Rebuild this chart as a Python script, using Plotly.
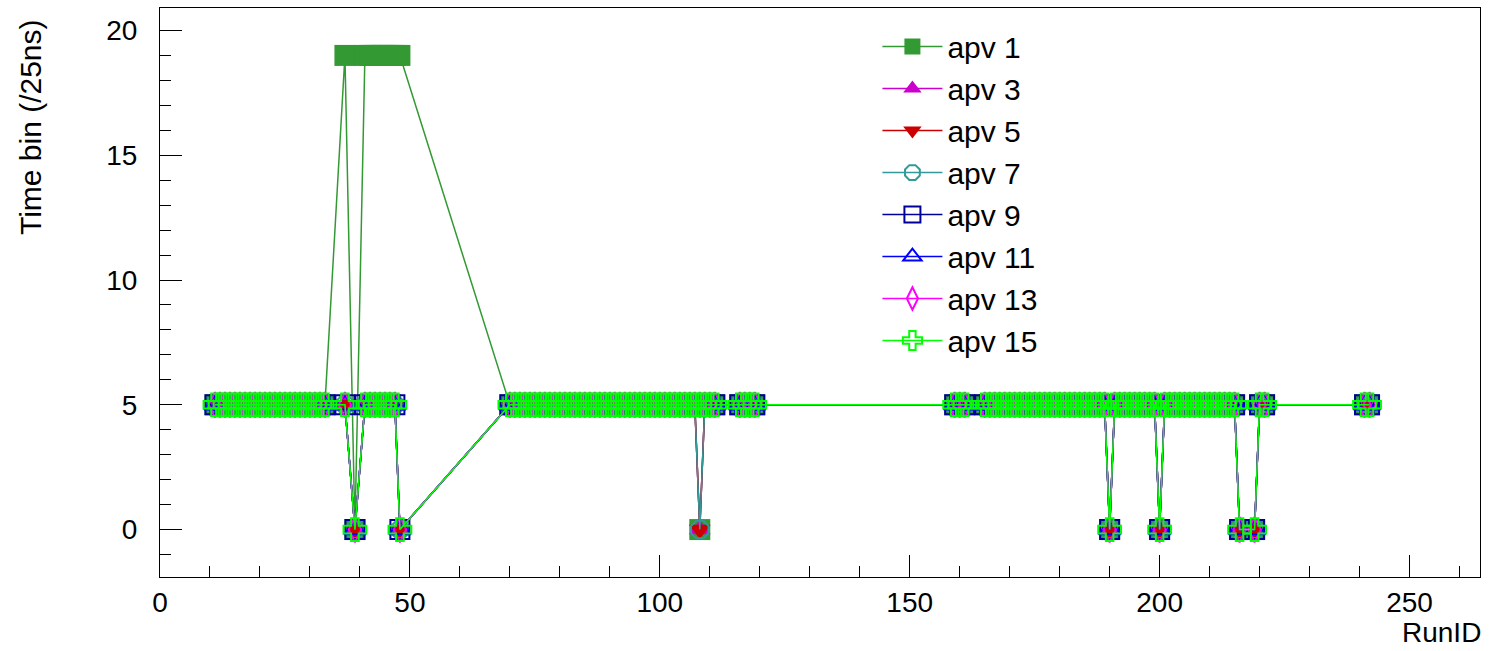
import plotly.graph_objects as go

# ---- data ----
runs_seg_a = list(range(11, 34)) + [37, 39] + list(range(41, 49))
runs_seg_b = list(range(70, 112))
runs_seg_b2 = [116, 117, 118, 119]
runs_seg_c0 = [159, 160, 161]
runs_seg_c = list(range(165, 216))
runs_seg_c2 = [216, 219, 220, 221]
runs_seg_d = [241, 242]
run_ids = runs_seg_a + runs_seg_b + runs_seg_b2 + runs_seg_c0 + runs_seg_c + runs_seg_c2 + runs_seg_d

apv_1 = ([5] * 23 + [19, 0] + [19] * 8
         + [5] * 38 + [0] + [5] * 3
         + [5] * 4 + [5] * 3
         + [5] * 25 + [0] + [5] * 9 + [0] + [5] * 15
         + [0, 0, 5, 5] + [5, 5])
apv_3 = ([5] * 23 + [5, 0] + [5] * 7 + [0]
         + [5] * 38 + [0] + [5] * 3
         + [5] * 4 + [5] * 3
         + [5] * 25 + [0] + [5] * 9 + [0] + [5] * 15
         + [0, 0, 5, 5] + [5, 5])
apv_5 = list(apv_3)
apv_7 = list(apv_3)
apv_9 = ([5] * 23 + [5, 0] + [5] * 7 + [0]
         + [5] * 42
         + [5] * 4 + [5] * 3
         + [5] * 25 + [0] + [5] * 9 + [0] + [5] * 15
         + [0, 0, 5, 5] + [5, 5])
apv_11 = list(apv_9)
apv_13 = list(apv_9)
apv_15 = list(apv_9)

series_names = ["apv 1", "apv 3", "apv 5", "apv 7", "apv 9", "apv 11", "apv 13", "apv 15"]
series_values = [apv_1, apv_3, apv_5, apv_7, apv_9, apv_11, apv_13, apv_15]

x_tick_vals = [0, 50, 100, 150, 200, 250]
y_tick_vals = [0, 5, 10, 15, 20]

# ---- styles ----
colors = ["#339933", "#cc00cc", "#cc0000", "#339999", "#000099", "#0000ff", "#ff00ff", "#00ff00"]
symbols = ["square", "triangle-up", "triangle-down", "octagon-open", "square-open",
           "triangle-up-open", "diamond-tall-open", "cross-open"]
sizes = [21, 19, 19, 19, 19, 19, 18, 19]

FONT = "Liberation Sans, Arial, Helvetica, sans-serif"

fig = go.Figure()
for name, vals, col, sym, sz in zip(series_names, series_values, colors, symbols, sizes):
    is_open = sym.endswith("-open")
    fig.add_trace(go.Scatter(
        x=run_ids, y=vals, name=name, legendgroup=name,
        mode="lines+markers",
        line=dict(color=col, width=1.5),
        marker=dict(symbol=sym, size=sz, color=col,
                    line=dict(color=col, width=2 if is_open else 0)),
    ))

axis_common = dict(
    showline=True, linecolor="black", linewidth=1, mirror=True,
    ticks="inside", tickcolor="black", tickwidth=1,
    showgrid=False, zeroline=False,
    tickfont=dict(family=FONT, size=28, color="black"),
)

fig.update_layout(
    width=1492, height=651,
    margin=dict(l=160, r=12, t=8, b=74),
    paper_bgcolor="white", plot_bgcolor="white",
    font=dict(family=FONT, size=28, color="black"),
    xaxis=dict(range=[0, 264.1], tickmode="array", tickvals=x_tick_vals,
               ticklen=22, ticklabelstandoff=0,
               minor=dict(dtick=10, ticks="inside", ticklen=11, tickcolor="black", showgrid=False),
               **axis_common),
    yaxis=dict(range=[-1.9, 20.9], tickmode="array", tickvals=y_tick_vals,
               ticklen=22, ticklabelstandoff=16,
               minor=dict(dtick=1, ticks="inside", ticklen=11, tickcolor="black", showgrid=False),
               **axis_common),
    legend=dict(x=0.5435, y=0.978, xanchor="left", yanchor="top",
                bgcolor="rgba(0,0,0,0)", borderwidth=0,
                font=dict(family=FONT, size=30, color="black"),
                itemwidth=60, tracegroupgap=0, itemclick=False),
    showlegend=True,
    annotations=[
        dict(text="RunID", xref="paper", yref="paper", x=1.002, y=-0.0967,
             xanchor="right", yanchor="middle", showarrow=False,
             font=dict(family=FONT, size=28, color="black")),
        dict(text="Time bin (/25ns)", xref="paper", yref="paper", x=-0.0985, y=0.984,
             xanchor="center", yanchor="top", textangle=-90, showarrow=False,
             font=dict(family=FONT, size=30, color="black")),
    ],
)

fig.write_html("out.html")
